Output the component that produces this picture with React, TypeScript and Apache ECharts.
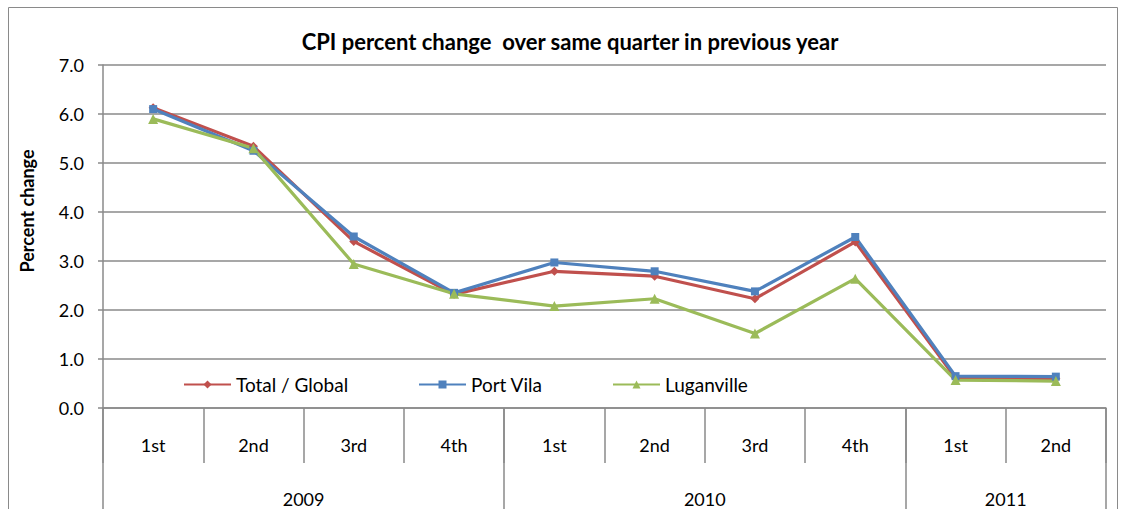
import React, { useEffect, useRef } from "react";
import * as echarts from "echarts";

const quarters = ["1st", "2nd", "3rd", "4th", "1st", "2nd", "3rd", "4th", "1st", "2nd"];
const years = ["2009", "2010", "2011"];
const yearBoundaries = [0, 4, 8, 10];
const yearCenters = [2, 6, 9];
const totalGlobal = [6.13, 5.34, 3.4, 2.32, 2.79, 2.69, 2.23, 3.39, 0.61, 0.6];
const portVila = [6.1, 5.25, 3.5, 2.35, 2.97, 2.79, 2.38, 3.49, 0.65, 0.64];
const luganville = [5.9, 5.3, 2.94, 2.33, 2.08, 2.23, 1.52, 2.64, 0.57, 0.55];
const yTicks = [0, 1, 2, 3, 4, 5, 6, 7];

const FONT = "Lato, 'Open Sans', sans-serif";
const GRAY = "#8a8a8a";

export default function App() {
  const ref = useRef<HTMLDivElement>(null);
  useEffect(() => {
    if (!ref.current) return;
    const chart = echarts.init(ref.current, undefined, { renderer: "svg" });
    const legendBase = {
      top: 370,
      itemWidth: 47,
      itemHeight: 10,
      itemGap: 4,
      textStyle: { fontFamily: FONT, fontSize: 19, color: "#000" },
    };
    chart.setOption({
      animation: false,
      backgroundColor: "#fff",
      title: {
        text: "CPI percent change  over same quarter in previous year",
        left: 565,
        textAlign: "center",
        top: 25,
        textStyle: { fontFamily: FONT, fontSize: 22, fontWeight: "bold", color: "#000" },
      },
      graphic: [
        {
          type: "rect",
          shape: { x: 8.5, y: 7.5, width: 1109, height: 520 },
          style: { fill: "none", stroke: GRAY, lineWidth: 1 },
          silent: true,
        },
        {
          type: "text",
          x: 27,
          y: 211,
          rotation: Math.PI / 2,
          style: {
            text: "Percent change",
            fontFamily: FONT,
            fontSize: 18,
            fontWeight: "bold",
            fill: "#000",
            align: "center",
            verticalAlign: "middle",
          },
          silent: true,
        },
      ],
      legend: [
        { ...legendBase, left: 178, data: ["Total / Global"] },
        { ...legendBase, left: 413, data: ["Port Vila"] },
        { ...legendBase, left: 607, data: ["Luganville"] },
      ],
      grid: {
        left: 103,
        right: 21,
        top: 65,
        bottom: 101,
        containLabel: false,
        outerBoundsMode: "none",
      },
      xAxis: [
        {
          type: "category",
          data: quarters,
          boundaryGap: true,
          position: "bottom",
          axisLine: { lineStyle: { color: GRAY, width: 1.5 } },
          axisTick: { show: true, interval: 0, length: 55, lineStyle: { color: GRAY, width: 1.5 } },
          axisLabel: {
            interval: 0,
            margin: 28,
            fontFamily: FONT,
            fontSize: 18,
            color: "#000",
          },
          splitLine: { show: false },
        },
        {
          type: "value",
          min: 0,
          max: 10,
          position: "bottom",
          axisLine: { show: false },
          axisTick: {
            show: true,
            length: 110,
            customValues: yearBoundaries,
            lineStyle: { color: GRAY, width: 1.5 },
          },
          axisLabel: {
            customValues: yearCenters,
            margin: 82,
            fontFamily: FONT,
            fontSize: 18,
            color: "#000",
            formatter: (v: number) => years[yearCenters.indexOf(v)] ?? "",
          },
          splitLine: { show: false },
        },
      ],
      yAxis: {
        type: "value",
        min: 0,
        max: 7,
        interval: 1,
        axisLine: { show: true, lineStyle: { color: GRAY, width: 1.5 } },
        axisTick: { show: true, length: 5, lineStyle: { color: GRAY, width: 1.5 } },
        axisLabel: {
          margin: 19,
          fontFamily: FONT,
          fontSize: 18,
          color: "#000",
          customValues: yTicks,
          formatter: (v: number) => v.toFixed(1),
        },
        splitLine: { show: true, lineStyle: { color: GRAY, width: 1.5 } },
      },
      series: [
        {
          name: "Total / Global",
          type: "line",
          data: totalGlobal,
          xAxisIndex: 0,
          symbol: "diamond",
          symbolSize: 9,
          color: "#C0504D",
          lineStyle: { width: 3.2, color: "#C0504D" },
          itemStyle: { color: "#C0504D" },
        },
        {
          name: "Port Vila",
          type: "line",
          data: portVila,
          xAxisIndex: 0,
          symbol: "rect",
          symbolSize: 8,
          color: "#4F81BD",
          lineStyle: { width: 3.2, color: "#4F81BD" },
          itemStyle: { color: "#4F81BD" },
        },
        {
          name: "Luganville",
          type: "line",
          data: luganville,
          xAxisIndex: 0,
          symbol: "triangle",
          symbolSize: 10,
          color: "#9BBB59",
          lineStyle: { width: 3.2, color: "#9BBB59" },
          itemStyle: { color: "#9BBB59" },
        },
      ],
    });
    return () => chart.dispose();
  }, []);
  return (
    <div
      ref={ref}
      style={{ position: "fixed", left: 0, top: 0, width: 1127, height: 509, background: "#fff" }}
    />
  );
}
